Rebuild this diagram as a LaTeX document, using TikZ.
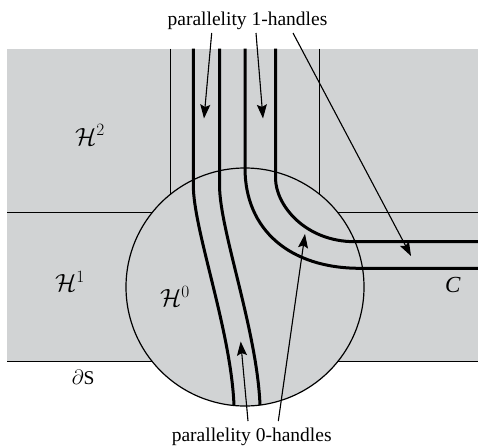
\documentclass[tikz,border=0pt]{standalone}
\usepackage{fontspec}
\setmainfont{Liberation Serif}
\usetikzlibrary{arrows.meta}
\definecolor{regiongray}{RGB}{209,211,212}
\tikzset{
  thinline/.style={line width=1.2pt, draw=black},
  thickline/.style={line width=3pt, draw=black},
  pointer/.style={line width=1.1pt, draw=black, fill=black, -{Stealth[length=14pt,width=10pt,inset=2.5pt]}},
  lbl/.style={inner sep=0pt, anchor=base west, font=\fontsize{19.5}{23}\selectfont},
  mathlbl/.style={inner sep=0pt, anchor=base west, font=\fontsize{23}{27}\selectfont},
  toplbl/.style={inner sep=0pt, anchor=base, font=\fontsize{19.5}{23}\selectfont}
}
\begin{document}
\begin{tikzpicture}[x=1pt,y=-1pt]
\useasboundingbox (0,0) rectangle (478,447);
% gray surface
\fill[regiongray] (7,48.7) rectangle (478,361.7);
% thin boundaries
\draw[thinline] (170.3,48.7) -- (170.3,200);
\draw[thinline] (319.3,48.7) -- (319.3,200);
\draw[thinline] (7,212.5) -- (478,212.5);
\draw[thinline] (7,361.7) -- (478,361.7);
% 0-handle disc
\path[fill=regiongray, thinline] (245,287) circle[radius=119];
% thick curves
\draw[thickline] (193.3,48.7) -- (193.3,185) .. controls (193.3,230) and (231,330) .. (234,405.5);
\draw[thickline] (219.5,48.7) -- (219.5,185) .. controls (219.5,230) and (257,330) .. (260,405);
\draw[thickline] (245,48.7) -- (245,168) .. controls (245,230) and (290,268.3) .. (360,268.3) -- (478,268.3);
\draw[thickline] (275.5,48.7) -- (275.5,178) .. controls (275.5,205) and (305,241.7) .. (355,241.7) -- (478,241.7);
% labels
\node[toplbl] (top) at (247.5,25) {parallelity 1-handles};
\node[toplbl] (bot) at (251.7,441.5) {parallelity 0-handles};
\node[mathlbl] (h2) at (75,145) {$\mathcal{H}^2$};
\node[mathlbl] (h1) at (55,291.7) {$\mathcal{H}^1$};
\node[mathlbl] (h0) at (160,306.7) {$\mathcal{H}^0$};
\node[mathlbl] (c) at (445,292.7) {\textit{C}};
\node[lbl] (ds) at (71.7,384.3) {$\partial$S};
% pointer ends
\coordinate (t1s) at (211.7,33);
\coordinate (t1e) at (204,118.5);
\coordinate (t2s) at (256,33);
\coordinate (t2e) at (263,118.5);
\coordinate (t3s) at (293,33);
\coordinate (t3e) at (411,256);
\coordinate (b1s) at (248,421);
\coordinate (b1e) at (240.7,341.5);
\coordinate (b2s) at (278.3,421);
\coordinate (b2e) at (305,234);
\draw[pointer] (t1s) -- (t1e);
\draw[pointer] (t2s) -- (t2e);
\draw[pointer] (t3s) -- (t3e);
\draw[pointer] (b1s) -- (b1e);
\draw[pointer] (b2s) -- (b2e);
\end{tikzpicture}
\end{document}
